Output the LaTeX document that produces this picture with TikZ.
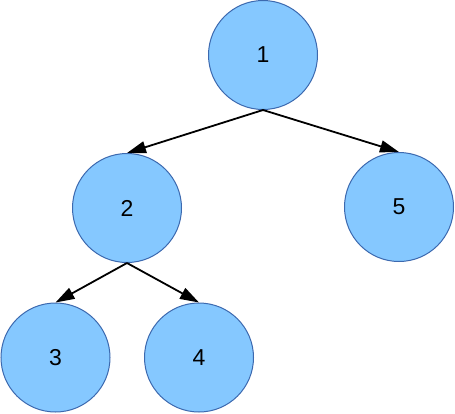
\documentclass[tikz,border=0pt]{standalone}
\usepackage{fontspec}
\setmainfont{Liberation Sans}
\usetikzlibrary{arrows.meta}
\definecolor{nodefill}{RGB}{133,200,255}
\definecolor{nodeline}{RGB}{60,105,175}
\begin{document}
\begin{tikzpicture}[x=1pt,y=-1pt,
  treenode/.style={circle,draw=nodeline,fill=nodefill,line width=1pt,minimum size=109pt,inner sep=0pt,font=\fontsize{23}{27}\selectfont},
  edge/.style={line width=1.8pt,-{Triangle[length=19pt,width=12pt]}}]
\useasboundingbox (0,0) rectangle (455,413);
\node[treenode] (n1) at (263,55) {1};
\node[treenode] (n2) at (127,208) {2};
\node[treenode] (n5) at (399,207) {5};
\node[treenode] (n3) at (55.5,357.5) {3};
\node[treenode] (n4) at (199,357.5) {4};
\draw[edge] (n1.south) -- (n2.north);
\draw[edge] (n1.south) -- (n5.north);
\draw[edge] (n2.south) -- (n3.north);
\draw[edge] (n2.south) -- (n4.north);
\end{tikzpicture}
\end{document}
